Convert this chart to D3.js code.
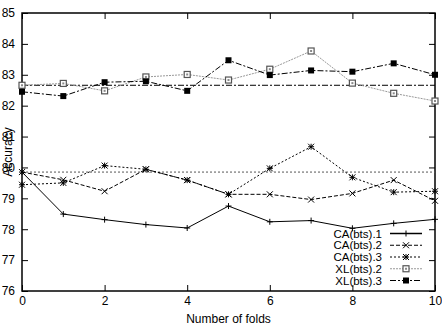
<!DOCTYPE html>
<html>
<head>
<meta charset="utf-8">
<script src="https://cdn.jsdelivr.net/npm/d3@7"></script>
<style>
  body { margin: 0; background: #fff; }
  text { font-family: "Liberation Sans", Arial, sans-serif; }
</style>
</head>
<body>
<div id="chart"></div>
<script>
// data
let folds = [0, 1, 2, 3, 4, 5, 6, 7, 8, 9, 10]
let ca1 = [79.85, 78.49, 78.31, 78.15, 78.04, 78.75, 78.24, 78.28, 78.03, 78.19, 78.32]
let ca2 = [79.85, 79.60, 79.23, 79.94, 79.59, 79.13, 79.13, 78.96, 79.16, 79.59, 78.92]
let ca3 = [79.44, 79.50, 80.06, 79.94, 79.59, 79.13, 79.97, 80.67, 79.68, 79.20, 79.23]
let xl2 = [82.66, 82.72, 82.48, 82.93, 83.01, 82.83, 83.18, 83.77, 82.73, 82.40, 82.15]
let xl3 = [82.45, 82.31, 82.76, 82.79, 82.48, 83.47, 82.99, 83.14, 83.10, 83.37, 83.00]
let baselines = [79.85, 82.66]
let seriesNames = ["CA(bts).1", "CA(bts).2", "CA(bts).3", "XL(bts).2", "XL(bts).3"]
let xTicks = [0, 2, 4, 6, 8, 10]
let yTicks = [76, 77, 78, 79, 80, 81, 82, 83, 84, 85]

let series = [
    {name: seriesNames[0], values: ca1, color: "#000", dash: null, marker: "plus"},
    {name: seriesNames[1], values: ca2, color: "#000", dash: "4,2", marker: "cross"},
    {name: seriesNames[2], values: ca3, color: "#000", dash: "2,2", marker: "star"},
    {name: seriesNames[3], values: xl2, color: "#999", dash: "2,1", marker: "box"},
    {name: seriesNames[4], values: xl3, color: "#000", dash: "6,2,2,2", marker: "fbox"}
]

let margin = {top: 13, right: 7, bottom: 37, left: 22}
let width = 442 - margin.left - margin.right
let height = 328 - margin.top - margin.bottom

let svg = d3.select("#chart").append("svg")
    .attr("width", 442)
    .attr("height", 328)

let g = svg.append("g")
    .attr("transform", `translate(${margin.left},${margin.top})`)

let x = d3.scaleLinear().domain([0, 10]).range([0, width])
let y = d3.scaleLinear().domain([76, 85]).range([height, 0])

// tick marks pointing inward on all sides
let tl = 6
g.append("g").attr("class", "x-axis")
    .attr("transform", `translate(0,${height})`)
    .call(d3.axisBottom(x).tickValues(xTicks).tickSize(-tl).tickPadding(5).tickFormat(d3.format("d")))
g.append("g")
    .call(d3.axisTop(x).tickValues(xTicks).tickSize(-tl).tickFormat(""))
g.append("g").attr("class", "y-axis")
    .call(d3.axisLeft(y).tickValues(yTicks).tickSize(-tl).tickPadding(7).tickFormat(d3.format("d")))
g.append("g")
    .attr("transform", `translate(${width},0)`)
    .call(d3.axisRight(y).tickValues(yTicks).tickSize(-tl).tickFormat(""))

g.selectAll(".domain").remove()
g.selectAll(".tick line").attr("stroke", "#000").attr("stroke-width", 1)
g.selectAll(".tick text").attr("font-size", 12).attr("fill", "#000")

// frame
g.append("rect")
    .attr("width", width).attr("height", height)
    .attr("fill", "none").attr("stroke", "#000").attr("stroke-width", 1.5)

// horizontal reference lines
g.append("line")
    .attr("x1", x(0)).attr("x2", x(10))
    .attr("y1", y(baselines[0])).attr("y2", y(baselines[0]))
    .attr("stroke", "#555").attr("stroke-dasharray", "2,2")
g.append("line")
    .attr("x1", x(0)).attr("x2", x(10))
    .attr("y1", y(baselines[1])).attr("y2", y(baselines[1]))
    .attr("stroke", "#000").attr("stroke-dasharray", "6,2,2,2")

let line = d3.line()
    .x((d, i) => x(folds[i]))
    .y(d => y(d))

function drawMarker(sel, type, cx, cy) {
    let m = sel.append("g").attr("transform", `translate(${cx},${cy})`)
    let s = 3
    if (type === "plus" || type === "star") {
        m.append("path").attr("d", `M${-s},0H${s}M0,${-s}V${s}`).attr("stroke", "#000")
    }
    if (type === "cross" || type === "star") {
        m.append("path").attr("d", `M${-s},${-s}L${s},${s}M${-s},${s}L${s},${-s}`).attr("stroke", "#000")
    }
    if (type === "box") {
        m.append("rect").attr("x", -3).attr("y", -3).attr("width", 6).attr("height", 6)
            .attr("fill", "#fff").attr("stroke", "#555").attr("stroke-width", 1.2)
        m.append("rect").attr("x", -1).attr("y", -1).attr("width", 2).attr("height", 2)
            .attr("fill", "#888")
    }
    if (type === "fbox") {
        m.append("rect").attr("x", -3).attr("y", -3).attr("width", 6).attr("height", 6)
            .attr("fill", "#000")
    }
}

series.forEach(function(s) {
    g.append("path")
        .datum(s.values)
        .attr("d", line)
        .attr("fill", "none")
        .attr("stroke", s.color)
        .attr("stroke-width", 1)
        .attr("stroke-dasharray", s.dash)
    s.values.forEach(function(v, i) {
        drawMarker(g, s.marker, x(folds[i]), y(v))
    })
})

// legend
let legend = svg.append("g")
series.forEach(function(s, i) {
    let ly = 233.5 + i * 11.75
    legend.append("text")
        .attr("x", 382).attr("y", ly + 4)
        .attr("text-anchor", "end")
        .attr("font-size", 11.5)
        .text(s.name)
    legend.append("line")
        .attr("x1", 390).attr("x2", 422)
        .attr("y1", ly).attr("y2", ly)
        .attr("stroke", s.color)
        .attr("stroke-width", i === 0 ? 1.5 : 1)
        .attr("stroke-dasharray", s.dash)
    drawMarker(legend, s.marker, 406, ly)
})

// axis titles
svg.append("text")
    .attr("x", margin.left + width / 2).attr("y", 323)
    .attr("text-anchor", "middle").attr("font-size", 12)
    .text("Number of folds")
svg.append("text")
    .attr("transform", `translate(12,${margin.top + height / 2}) rotate(-90)`)
    .attr("text-anchor", "middle").attr("font-size", 12)
    .text("Accuracy")
</script>
</body>
</html>
